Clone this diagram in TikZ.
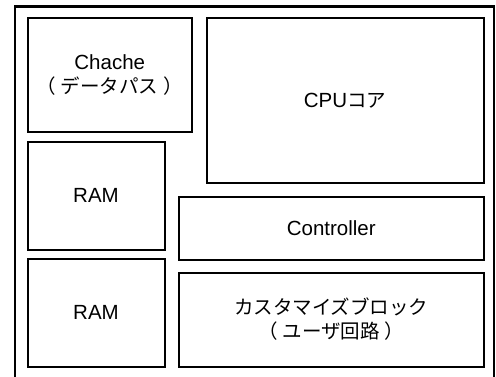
\documentclass[tikz,border=0pt]{standalone}
\usepackage{fontspec}
\setmainfont{Liberation Sans}
\newfontfamily\jp{Noto Sans CJK JP}
\newcommand{\jpt}[1]{{\jp\fontsize{19.5}{24}\selectfont #1}}
\newcommand{\jpp}[1]{{\jp\fontsize{19.5}{24}\selectfont （\hspace{5pt}#1\hspace{5pt}）}}
\begin{document}
\begin{tikzpicture}[x=1pt,y=-1pt,
  blk/.style={draw, line width=2pt, inner sep=0pt, outer sep=0pt, align=center,
              font=\fontsize{20.5}{24}\selectfont},
  frame/.style={draw, line width=2.6pt}]
\useasboundingbox (0,0) rectangle (496,376);
\clip (0,0) rectangle (496,376);
\coordinate (fa) at (15,6.5);
\coordinate (fb) at (494,395);
\draw[frame] (fa) rectangle (fb);
\node[blk, minimum width=164.5pt, minimum height=114.5pt] (cache) at (109.75,74.75)
  {Chache\\\jpp{データパス}};
\node[blk, minimum width=277pt, minimum height=165.5pt] (cpu) at (345,100.25)
  {CPU\jpt{コア}};
\node[blk, minimum width=137pt, minimum height=107.5pt] (ram1) at (96,195.75) {RAM};
\node[blk, minimum width=137pt, minimum height=108pt] (ram2) at (96,312.5) {RAM};
\node[blk, minimum width=304.5pt, minimum height=62.5pt] (ctrl) at (331.25,228.25) {Controller};
\node[blk, minimum width=304.5pt, minimum height=94pt] (cust) at (331.25,319.5)
  {\jpt{カスタマイズブロック}\\\jpp{ユーザ回路}};
\end{tikzpicture}
\end{document}
